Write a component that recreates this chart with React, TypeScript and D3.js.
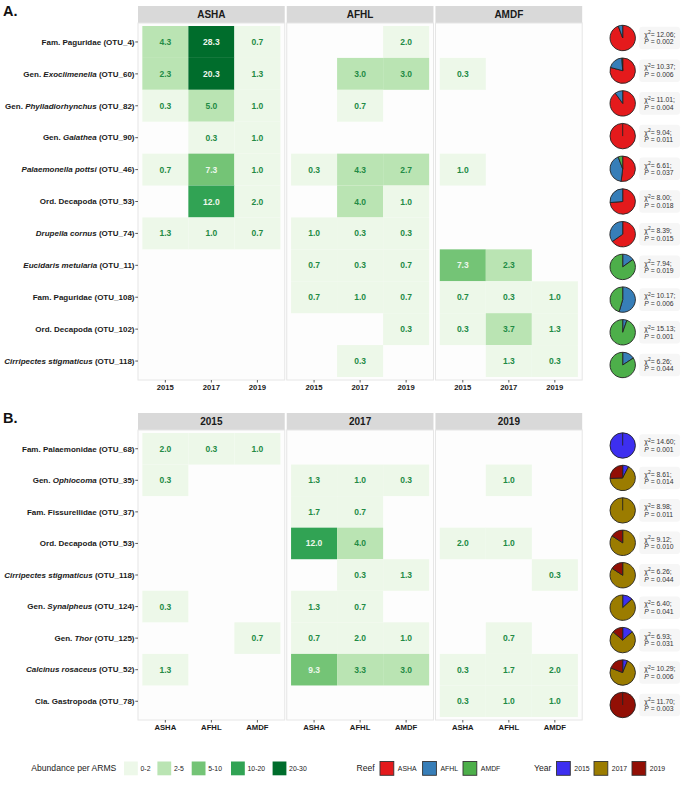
import React from 'react';
import * as d3 from 'd3';

const reefs = ['ASHA', 'AFHL', 'AMDF'];
const years = ['2015', '2017', '2019'];

const labelsA = [
  'Fam. Paguridae (OTU_4)',
  'Gen. *Exoclimenella* (OTU_60)',
  'Gen. *Phylladiorhynchus* (OTU_82)',
  'Gen. *Galathea* (OTU_90)',
  '*Palaemonella pottsi* (OTU_46)',
  'Ord. Decapoda (OTU_53)',
  '*Drupella cornus* (OTU_74)',
  '*Eucidaris metularia* (OTU_11)',
  'Fam. Paguridae (OTU_108)',
  'Ord. Decapoda (OTU_102)',
  '*Cirripectes stigmaticus* (OTU_118)',
];
// per row: facet1 (3 cols), facet2 (3 cols), facet3 (3 cols)
const valuesA: (number | null)[][] = [
  [4.3, 28.3, 0.7, null, null, 2.0, null, null, null],
  [2.3, 20.3, 1.3, null, 3.0, 3.0, 0.3, null, null],
  [0.3, 5.0, 1.0, null, 0.7, null, null, null, null],
  [null, 0.3, 1.0, null, null, null, null, null, null],
  [0.7, 7.3, 1.0, 0.3, 4.3, 2.7, 1.0, null, null],
  [null, 12.0, 2.0, null, 4.0, 1.0, null, null, null],
  [1.3, 1.0, 0.7, 1.0, 0.3, 0.3, null, null, null],
  [null, null, null, 0.7, 0.3, 0.7, 7.3, 2.3, null],
  [null, null, null, 0.7, 1.0, 0.7, 0.7, 0.3, 1.0],
  [null, null, null, null, null, 0.3, 0.3, 3.7, 1.3],
  [null, null, null, null, 0.3, null, null, 1.3, 0.3],
];
const chiA = ['12.06', '10.37', '11.01', '9.04', '6.61', '8.00', '8.39', '7.94', '10.17', '15.13', '6.26'];
const pA = ['0.002', '0.006', '0.004', '0.011', '0.037', '0.018', '0.015', '0.019', '0.006', '0.001', '0.044'];

const labelsB = [
  'Fam. Palaemonidae (OTU_68)',
  'Gen. *Ophiocoma* (OTU_35)',
  'Fam. Fissurellidae (OTU_37)',
  'Ord. Decapoda (OTU_53)',
  '*Cirripectes stigmaticus* (OTU_118)',
  'Gen. *Synalpheus* (OTU_124)',
  'Gen. *Thor* (OTU_125)',
  '*Calcinus rosaceus* (OTU_52)',
  'Cla. Gastropoda (OTU_78)',
];
const valuesB: (number | null)[][] = [
  [2.0, 0.3, 1.0, null, null, null, null, null, null],
  [0.3, null, null, 1.3, 1.0, 0.3, null, 1.0, null],
  [null, null, null, 1.7, 0.7, null, null, null, null],
  [null, null, null, 12.0, 4.0, null, 2.0, 1.0, null],
  [null, null, null, null, 0.3, 1.3, null, null, 0.3],
  [0.3, null, null, 1.3, 0.7, null, null, null, null],
  [null, null, 0.7, 0.7, 2.0, 1.0, null, 0.7, null],
  [1.3, null, null, 9.3, 3.3, 3.0, 0.3, 1.7, 2.0],
  [null, null, null, null, null, null, 0.3, 1.0, 1.0],
];
const chiB = ['14.60', '8.61', '8.98', '9.12', '6.26', '6.40', '6.93', '10.29', '11.70'];
const pB = ['0.001', '0.014', '0.011', '0.010', '0.044', '0.041', '0.031', '0.006', '0.003'];

const binLabels = ['0-2', '2-5', '5-10', '10-20', '20-30'];
const binEdges = [2, 5, 10, 20];
const binColors = ['#edf8e9', '#bae4b3', '#74c476', '#31a354', '#006d2c'];
const reefColors = ['#e41a1c', '#377eb8', '#4daf4a'];
const yearColors = ['#3d2ff0', '#9b7c00', '#920f05'];

const FONT = 'Liberation Sans, Arial, Helvetica, sans-serif';
// right-closed bins: (0,2], (2,5], (5,10], (10,20], (20,30]
const binOf = (v: number) => d3.bisectLeft(binEdges, v);

function Label({ text, x, y }: { text: string; x: number; y: number }) {
  const parts = text.split('*');
  return (
    <text x={x} y={y} dy="0.35em" textAnchor="end" fontSize={8} fontWeight="bold" fill="#1a1a1a" fontFamily={FONT}>
      {parts.map((p, i) => (
        <tspan key={i} fontStyle={i % 2 === 1 ? 'italic' : 'normal'}>{p}</tspan>
      ))}
    </text>
  );
}

function Block(props: {
  letter: string; letterY: number; top: number; bottom: number;
  labels: string[]; values: (number | null)[][]; facets: string[]; cols: string[];
  pieColors: string[]; chi: string[]; p: string[]; pieFirst: number; pieLast: number;
}) {
  const { letter, letterY, top, bottom, labels, values, facets, cols, pieColors, chi, p, pieFirst, pieLast } = props;
  const fx = d3.scaleBand<string>().domain(facets).range([138, 582.2]).paddingInner(0.0134);
  const bw = fx.bandwidth();
  const cx = d3.scaleBand<string>().domain(cols).range([0, bw]).paddingOuter(0.094).paddingInner(0);
  const rows = labels.map((_, i) => String(i));
  const y = d3.scaleBand<string>().domain(rows).range([top, bottom]).paddingOuter(0.094).paddingInner(0);
  const py = d3.scalePoint<string>().domain(rows).range([pieFirst, pieLast]);
  const pie = d3.pie<number>().sort(null).value((d) => d);
  const R = 12.7;
  const arc = d3.arc<d3.PieArcDatum<number>>().innerRadius(0).outerRadius(R);
  const pieX = 622.7;
  return (
    <g>
      <text x={3} y={letterY} fontSize={14.5} fontWeight="bold" fontFamily={FONT} fill="#111">{letter}</text>
      {facets.map((f, fi) => {
        const x0 = fx(f)!;
        return (
          <g key={f}>
            <rect x={x0} y={top - 17} width={bw} height={17} fill="#d9d9d9" />
            <text x={x0 + bw / 2} y={top - 8.5} dy="0.36em" textAnchor="middle" fontSize={10} fontWeight="bold" fontFamily={FONT} fill="#1a1a1a">{f}</text>
            <rect x={x0} y={top} width={bw} height={bottom - top} fill="#fdfdfd" stroke="#e6e6e6" strokeWidth={1} />
            {values.map((row, ri) =>
              cols.map((c, ci) => {
                const v = row[fi * 3 + ci];
                if (v == null) return null;
                const b = binOf(v);
                return (
                  <g key={`${ri}-${ci}`}>
                    <rect x={x0 + cx(c)!} y={y(String(ri))!} width={cx.bandwidth()} height={y.bandwidth()} fill={binColors[b]} />
                    <text x={x0 + cx(c)! + cx.bandwidth() / 2} y={y(String(ri))! + y.bandwidth() / 2} dy="0.36em" textAnchor="middle"
                      fontSize={8.5} fontWeight="bold" fontFamily={FONT} fill={b >= 2 ? '#eef7ec' : '#238b45'}>{v.toFixed(1)}</text>
                  </g>
                );
              })
            )}
            {cols.map((c) => {
              const xx = x0 + cx(c)! + cx.bandwidth() / 2;
              return (
                <g key={c}>
                  <line x1={xx} x2={xx} y1={bottom} y2={bottom + 2.5} stroke="#333" strokeWidth={0.8} />
                  <text x={xx} y={bottom + 10} textAnchor="middle" fontSize={7.7} fontWeight="bold" fontFamily={FONT} fill="#1a1a1a">{c}</text>
                </g>
              );
            })}
          </g>
        );
      })}
      {labels.map((l, i) => {
        const yy = y(String(i))! + y.bandwidth() / 2;
        return (
          <g key={i}>
            <Label text={l} x={134.5} y={yy} />
            <line x1={135.3} x2={138} y1={yy} y2={yy} stroke="#333" strokeWidth={0.8} />
          </g>
        );
      })}
      {values.map((row, i) => {
        const sums = facets.map((_, fi) => d3.sum(row.slice(fi * 3, fi * 3 + 3), (d) => d ?? 0));
        const data = sums.map((s, k) => ({ s, k })).filter((d) => d.s > 0);
        const arcs = pie(data.map((d) => d.s));
        const yy = py(String(i))!;
        return (
          <g key={i}>
            <g transform={`translate(${pieX},${yy})`}>
              {arcs.map((a, k) => (
                <path key={k} d={arc(a)!} fill={pieColors[data[k].k]} stroke="#222" strokeWidth={0.9} />
              ))}
              {data.length === 1 && <line x1={0} y1={0} x2={0} y2={-R} stroke="#222" strokeWidth={0.9} />}
            </g>
            <rect x={639.3} y={yy - 11.3} width={40.7} height={22.6} rx={3} fill="#f6f6f6" />
            <text x={644.3} y={yy - 1.3} fontSize={6.8} fontFamily={FONT} fill="#333">
              χ<tspan dy={-2.5} fontSize={5}>2</tspan><tspan dy={2.5}>= {chi[i]};</tspan>
            </text>
            <text x={644.3} y={yy + 6.3} fontSize={6.8} fontFamily={FONT} fill="#333">
              <tspan fontStyle="italic">P</tspan> = {p[i]}
            </text>
          </g>
        );
      })}
    </g>
  );
}

function Legend() {
  const ky = 761.5;
  const ks = 13.8;
  const ty = ky + ks / 2;
  const absX = [124, 157.4, 191.7, 231, 272.6];
  const reefX = [380, 422.6, 463];
  const yearX = [556.5, 594, 632];
  return (
    <g fontFamily={FONT}>
      <text x={31.3} y={ty} dy="0.35em" fontSize={8.6} fill="#1a1a1a">Abundance per ARMS</text>
      {binLabels.map((b, i) => (
        <g key={b}>
          <rect x={absX[i]} y={ky} width={ks} height={ks} fill={binColors[i]} />
          <text x={absX[i] + ks + 2.7} y={ty} dy="0.35em" fontSize={6.9} fill="#1a1a1a">{b}</text>
        </g>
      ))}
      <text x={356.5} y={ty} dy="0.35em" fontSize={8.6} fill="#1a1a1a">Reef</text>
      {reefs.map((r, i) => (
        <g key={r}>
          <rect x={reefX[i]} y={ky} width={ks} height={ks} fill={reefColors[i]} stroke="#333" strokeWidth={0.9} />
          <text x={reefX[i] + ks + 4} y={ty} dy="0.35em" fontSize={6.9} fill="#1a1a1a">{r}</text>
        </g>
      ))}
      <text x={534} y={ty} dy="0.35em" fontSize={8.6} fill="#1a1a1a">Year</text>
      {years.map((r, i) => (
        <g key={r}>
          <rect x={yearX[i]} y={ky} width={ks} height={ks} fill={yearColors[i]} stroke="#333" strokeWidth={0.9} />
          <text x={yearX[i] + ks + 4} y={ty} dy="0.35em" fontSize={6.9} fill="#1a1a1a">{r}</text>
        </g>
      ))}
    </g>
  );
}

export default function App() {
  return (
    <svg width={685} height={788} style={{ position: 'absolute', left: 0, top: 0, display: 'block', background: '#fff' }}>
      <rect width={685} height={788} fill="#fff" />
      <Block letter="A." letterY={15.7} top={23} bottom={380} labels={labelsA} values={valuesA} facets={reefs} cols={years}
        pieColors={reefColors} chi={chiA} p={pA} pieFirst={38} pieLast={365} />
      <Block letter="B." letterY={423} top={430} bottom={720} labels={labelsB} values={valuesB} facets={years} cols={reefs}
        pieColors={yearColors} chi={chiB} p={pB} pieFirst={445.5} pieLast={705} />
      <Legend />
    </svg>
  );
}
